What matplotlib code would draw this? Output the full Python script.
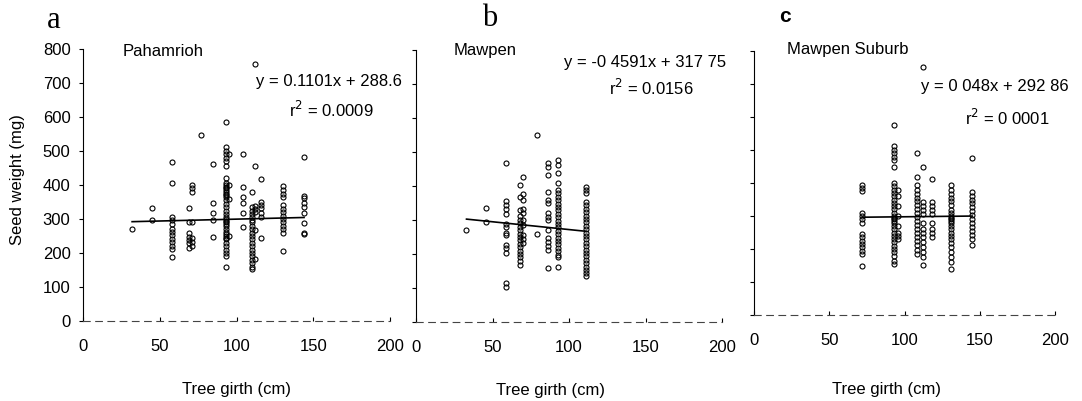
import numpy as np
import matplotlib
matplotlib.use("Agg")
import matplotlib.pyplot as plt

# data: girth classes (cm) and the seed weights (mg) in each
a_girth = [32, 45, 58, 69, 71, 77, 85, 93, 95, 104, 110, 112, 116, 130, 144]
a_seed = [
    [272],
    [332, 298],
    [468, 405, 305, 296, 285, 272, 262, 252, 242, 232, 222, 212, 188],
    [332, 290, 258, 248, 238, 228, 216],
    [400, 390, 380, 290, 244, 232, 222],
    [547],
    [463, 347, 318, 298, 247],
    [585, 512, 500, 490, 480, 470, 455, 420, 405, 400, 395, 390, 385, 380, 375,
     370, 365, 355, 345, 335, 325, 315, 305, 300, 295, 290, 285, 280, 270, 262,
     255, 250, 245, 240, 230, 220, 210, 200, 190, 160],
    [490, 400, 360, 250],
    [491, 394, 365, 347, 318, 277],
    [380, 335, 325, 315, 305, 298, 290, 280, 270, 260, 250, 240, 230, 220, 210,
     200, 190, 180, 170, 160, 152],
    [755, 456, 338, 330, 320, 268, 182],
    [418, 350, 340, 332, 318, 306, 244],
    [397, 385, 375, 365, 341, 330, 320, 310, 300, 290, 280, 270, 260, 205],
    [482, 368, 362, 346, 335, 318, 288, 260, 255],
]
a_fit = (0.1101, 288.6)

b_girth = [33, 46, 59, 68, 70, 79, 86, 93, 111]
b_seed = [
    [272],
    [335, 295],
    [468, 356, 345, 332, 318, 288, 280, 262, 255, 226, 218, 203, 115, 103],
    [403, 368, 330, 312, 300, 290, 280, 270, 260, 250, 240, 230, 220, 210, 200,
     190, 180, 168],
    [426, 376, 359, 332, 320, 300, 285, 256, 245, 232],
    [550, 259],
    [468, 456, 432, 382, 359, 350, 320, 310, 300, 271, 247, 236, 224, 212, 159],
    [476, 462, 438, 409, 388, 378, 368, 358, 348, 338, 328, 318, 308, 298, 288,
     278, 268, 258, 248, 238, 228, 218, 208, 198, 191, 162],
    [397, 388, 379, 353, 343, 333, 323, 313, 303, 293, 283, 273, 263, 253, 243,
     233, 223, 213, 203, 193, 183, 173, 163, 153, 143, 135],
]
b_fit = (-0.4591, 317.75)

c_girth = [72, 93, 96, 108, 112, 118, 131, 145]
c_seed = [
    [395, 385, 375, 310, 300, 290, 280, 245, 235, 225, 215, 205, 195, 185, 150],
    [576, 512, 500, 490, 480, 470, 450, 400, 390, 380, 370, 360, 350, 340, 330,
     320, 310, 300, 295, 290, 285, 280, 270, 260, 250, 240, 230, 220, 210, 200,
     190, 180, 165, 155],
    [380, 360, 330, 300, 270, 250, 240, 230],
    [490, 418, 394, 380, 368, 356, 344, 332, 320, 308, 296, 284, 272, 260, 248,
     236, 224, 212, 198, 184],
    [752, 449, 342, 330, 318, 305, 279, 262, 250, 236, 221, 205, 190, 176, 152],
    [412, 342, 330, 318, 305, 279, 262, 250, 236],
    [394, 380, 368, 356, 344, 332, 318, 308, 300, 295, 290, 285, 280, 270, 260,
     250, 240, 230, 218, 205, 190, 175, 160, 140],
    [476, 373, 362, 350, 338, 326, 314, 302, 290, 278, 266, 254, 242, 230, 212],
]
c_fit = (0.048, 292.86)

yticks = [0, 100, 200, 300, 400, 500, 600, 700, 800]
xticks = [0, 50, 100, 150, 200]

fig = plt.figure(figsize=(10.82, 4.01), dpi=100)
plt.rcParams['font.family'] = ['Liberation Sans', 'DejaVu Sans']

W, H = 1082.0, 401.0
# axes boxes in pixels: (x of 0, x of 200, y of 0, y of 800)
boxes = [(83, 390, 321, 49), (416, 722, 322, 50), (754, 1055, 315, 51)]

panels = [
    (a_girth, a_seed, a_fit, "Pahamrioh", "y = 0.1101x + 288.6", "0.0009",
     (52, 792), (160, 703), (162, 620)),
    (b_girth, b_seed, b_fit, "Mawpen", "y = -0 4591x + 317 75", "0.0156",
     (45, 800), (150, 762), (154, 688)),
    (c_girth, c_seed, c_fit, "Mawpen Suburb", "y = 0 048x + 292 86", "0 0001",
     (62, 806), (160, 691), (168, 597)),
]

fs = 12
axes = []
for i, (box, p) in enumerate(zip(boxes, panels)):
    x0, x1, y0, y1 = box
    ax = fig.add_axes([x0 / W, (H - y0) / H, (x1 - x0) / W, (y0 - y1) / H])
    axes.append(ax)
    girth, seed, fit, name, eq, r2, tpos, epos, rpos = p

    xs = np.concatenate([[g] * len(s) for g, s in zip(girth, seed)])
    ys = np.concatenate(seed)
    ax.plot(xs, ys, 'o', ms=3.6, mfc='none', mec='black', mew=0.8, clip_on=False)

    xf = np.array([min(girth), max(girth)])
    ax.plot(xf, fit[0] * xf + fit[1], color='black', lw=1.2)

    ax.set_xlim(0, 200)
    ax.set_ylim(0, 800)
    ax.set_xticks(xticks)
    ax.set_yticks(yticks)
    ax.tick_params(axis='x', direction='in', length=3, pad=13, labelsize=fs)
    ax.tick_params(axis='y', direction='out', length=3, pad=6, labelsize=fs)
    if i > 0:
        ax.set_yticklabels([])
    for s in ['top', 'right']:
        ax.spines[s].set_visible(False)
    ax.spines['left'].set_linewidth(0.8)
    ax.spines['bottom'].set_linewidth(0.8)
    ax.spines['bottom'].set_color('#444444')
    ax.spines['bottom'].set_linestyle((0, (6, 5)))
    ax.patch.set_alpha(0)

    ax.text(tpos[0], tpos[1], name, ha='center', va='center', fontsize=fs,
            clip_on=False)
    ax.text(epos[0], epos[1], eq, ha='center', va='center', fontsize=fs,
            clip_on=False)
    ax.text(rpos[0], rpos[1], "r$^{2}$ = " + r2, ha='center', va='center',
            fontsize=fs, clip_on=False)
    ax.set_xlabel("Tree girth (cm)", fontsize=fs)

axes[0].xaxis.set_label_coords(0.5, -0.225)
axes[1].xaxis.set_label_coords(0.44, -0.225)
axes[2].xaxis.set_label_coords(0.44, -0.255)
axes[0].set_ylabel("Seed weight (mg)", fontsize=fs)
axes[0].yaxis.set_label_coords(-0.19, 0.52)

fig.text(54 / W, 1 - 20 / H, "a", family='Liberation Serif', fontsize=22,
         ha='center', va='center')
fig.text(490 / W, 1 - 18 / H, "b", family='Liberation Serif', fontsize=22,
         ha='center', va='center')
fig.text(785 / W, 1 - 16 / H, "c", fontsize=15, weight='bold',
         ha='center', va='center')

fig.savefig("out.png", dpi=100)
